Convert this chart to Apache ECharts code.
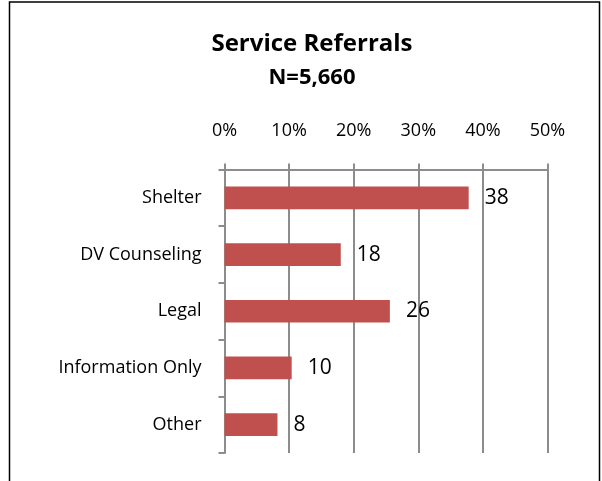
<!DOCTYPE html>
<html>
<head>
<meta charset="utf-8">
<script src="https://cdn.jsdelivr.net/npm/echarts@6/dist/echarts.min.js"></script>
<style>
  html, body { margin: 0; padding: 0; background: #fff; }
  #chart { width: 602px; height: 481px; }
</style>
</head>
<body>
<div id="chart"></div>
<script>
var categories = ["Shelter", "DV Counseling", "Legal", "Information Only", "Other"];
var percents = [37.8, 18.0, 25.6, 10.4, 8.2];
var labels = ["38", "18", "26", "10", "8"];
var tickValues = [0, 10, 20, 30, 40, 50];

var myChart = echarts.init(document.getElementById("chart"));
var font = "'Open Sans', Lato, sans-serif";
var gridColor = "#8c8c8c";

var option = {
  animation: false,
  textStyle: { fontFamily: font },
  title: [
    {
      text: "Service Referrals",
      left: 307, top: 27, textAlign: "center",
      textStyle: { fontSize: 24, fontWeight: "bold", color: "#000", fontFamily: font }
    },
    {
      text: "N=5,660",
      left: 307, top: 62, textAlign: "center",
      textStyle: { fontSize: 22, fontWeight: "bold", color: "#000", fontFamily: font }
    }
  ],
  graphic: [
    {
      type: "rect",
      shape: { x: 9.5, y: 2, width: 590, height: 500 },
      style: { fill: "none", stroke: "#000", lineWidth: 1.5 }
    }
  ],
  grid: { left: 224.5, right: 54.5, top: 169.5, bottom: 28, containLabel: false },
  xAxis: {
    type: "value",
    position: "top",
    min: tickValues[0],
    max: tickValues[tickValues.length - 1],
    interval: 10,
    axisLine: { show: true, lineStyle: { color: gridColor, width: 2 } },
    axisTick: { show: true, length: 6, lineStyle: { color: gridColor, width: 2 } },
    splitLine: { show: true, lineStyle: { color: gridColor, width: 2 } },
    axisLabel: {
      formatter: "{value}%",
      color: "#000",
      fontSize: 18,
      margin: 30
    }
  },
  yAxis: {
    type: "category",
    inverse: true,
    data: categories,
    axisLine: { show: true, lineStyle: { color: gridColor, width: 2 } },
    axisTick: { show: true, length: 6, lineStyle: { color: gridColor, width: 2 } },
    axisLabel: { color: "#000", fontSize: 18, margin: 23 }
  },
  series: [
    {
      type: "bar",
      data: percents,
      barWidth: "40%",
      itemStyle: { color: "#c0504d" },
      label: {
        show: true,
        position: "right",
        distance: 16,
        color: "#000",
        fontSize: 21,
        formatter: function (p) { return labels[p.dataIndex]; }
      }
    }
  ]
};

myChart.setOption(option);
</script>
</body>
</html>
